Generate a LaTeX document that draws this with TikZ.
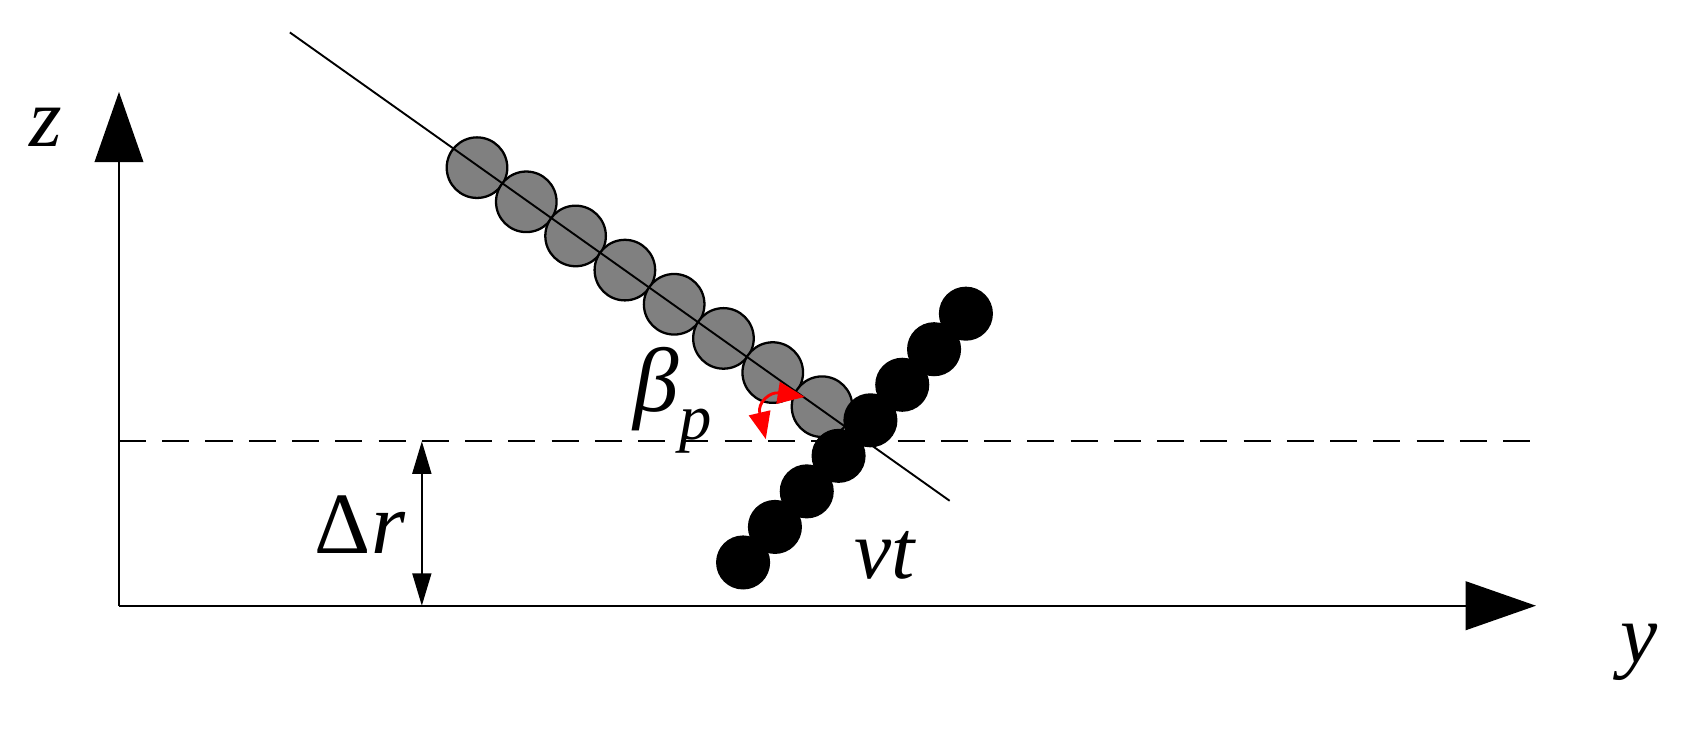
\documentclass[tikz,border=0pt]{standalone}
\usepackage{fontspec}
\setmainfont{Liberation Serif}
\usetikzlibrary{arrows.meta}
\begin{document}
\begin{tikzpicture}[x=0.02cm,y=-0.02cm,
  lbl/.style={font=\fontsize{44}{46}\selectfont\itshape},
  gray ball/.style={circle,draw=black,line width=1.2pt,fill=black!50,minimum size=56*0.02cm,inner sep=0pt},
  black ball/.style={circle,fill=black,minimum size=50*0.02cm,inner sep=0pt},
  axisarrow/.style={line width=1pt,-{Triangle[length=1.3cm,width=0.9cm]}}]
\useasboundingbox (0,0) rectangle (1568,694);
\coordinate (O) at (110,560);
\coordinate (Zt) at (110,85);
\coordinate (Yt) at (1420,560);
\draw[axisarrow] (O) -- (Zt);
\draw[axisarrow] (O) -- (Yt);
\node[lbl] (zl) at (42,118) {z};
\node[lbl] (yl) at (1515,603) {y};
\coordinate (D1) at (110,408); \coordinate (D2) at (1420,408);
\draw[line width=1pt,dash pattern=on 0.5cm off 0.3cm] (D1) -- (D2);
\coordinate (R1) at (390,408); \coordinate (R2) at (390,560);
\draw[line width=1pt,{Triangle[length=0.6cm,width=0.35cm]}-{Triangle[length=0.6cm,width=0.35cm]}] (R1) -- (R2);
\node[font=\fontsize{46}{48}\selectfont] (dr) at (333,485) {Δ\textit{r}};
\foreach \i in {0,...,7}{
  \node[gray ball] (g\i) at ({441+\i*(760-441)/7},{155+\i*(376-155)/7}) {};
}
\coordinate (L1) at (268,30); \coordinate (L2) at (878,463);
\draw[line width=1pt] (L1) -- (L2);
\foreach \i in {0,...,7}{
  \node[black ball] (b\i) at ({687+\i*(893-687)/7},{520+\i*(290-520)/7}) {};
}
\coordinate (A1) at (708,406); \coordinate (A2) at (744,367);
\draw[red,line width=1.5pt,{Triangle[length=0.5cm,width=0.4cm]}-{Triangle[length=0.5cm,width=0.4cm]}] (A1) .. controls (700,372) and (712,362) .. (A2);
\node[font=\fontsize{48}{50}\selectfont\itshape] (bp) at (622,370) {β\raisebox{-0.3em}{\fontsize{34}{36}\selectfont p}};
\node[lbl] (vt) at (818,513) {vt};
\end{tikzpicture}
\end{document}
